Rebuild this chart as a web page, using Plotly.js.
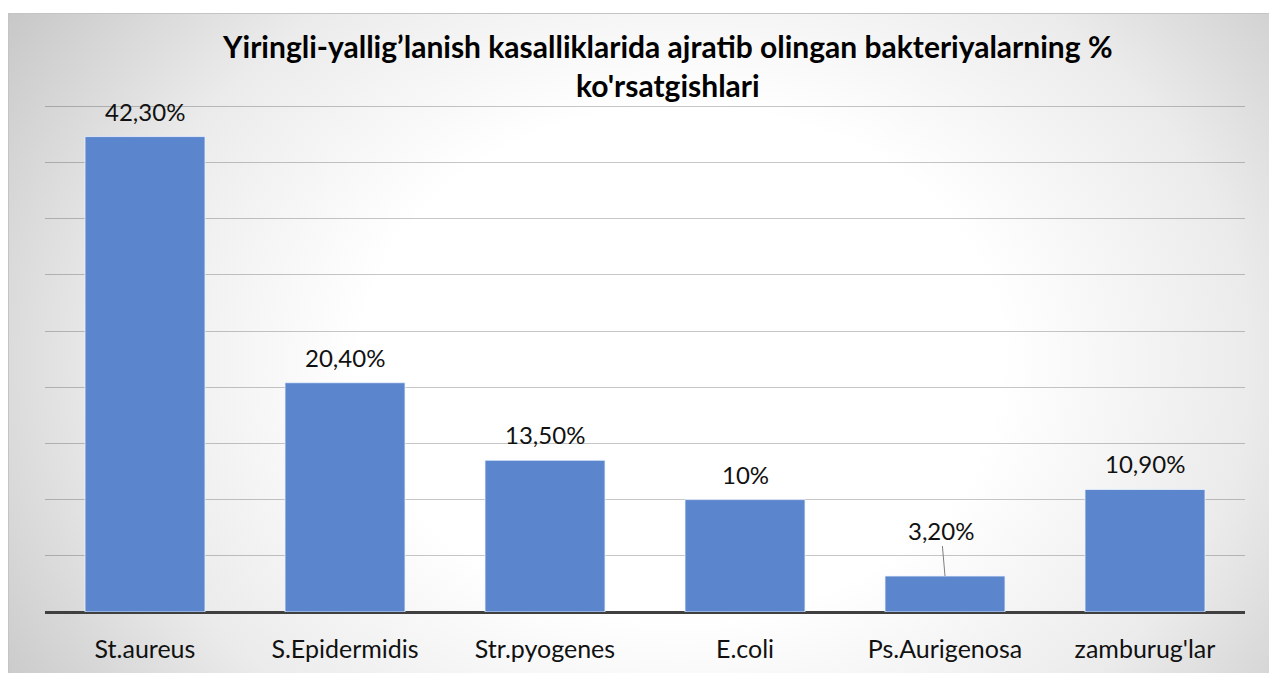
<!DOCTYPE html>
<html>
<head>
<meta charset="utf-8">
<script src="https://cdn.plot.ly/plotly-3.0.1.min.js"></script>
<style>
  html, body { margin: 0; padding: 0; background: #ffffff; }
  #wrap { position: relative; width: 1269px; height: 673px; overflow: hidden; }
  #bg {
    position: absolute; left: 8px; top: 13px; width: 1270px; height: 670px;
    border: 1px solid #c4c4c4;
    background: radial-gradient(ellipse 66% 100% at 53% 52%, #ffffff 0%, #ffffff 38%, #ebebeb 68%, #c2c2c2 100%);
  }
  #chart { position: absolute; left: 0; top: 0; width: 1269px; height: 673px; }
</style>
</head>
<body>
<div id="wrap">
  <div id="bg"></div>
  <div id="chart"></div>
</div>
<script>
const categories = ["St.aureus", "S.Epidermidis", "Str.pyogenes", "E.coli", "Ps.Aurigenosa", "zamburug'lar"];
const values = [42.3, 20.4, 13.5, 10, 3.2, 10.9];
const labels = ["42,30%", "20,40%", "13,50%", "10%", "3,20%", "10,90%"];
const titleText = "Yiringli-yallig’lanish kasalliklarida ajratib olingan bakteriyalarning %<br>ko'rsatgishlari";
const gridVals = [5, 10, 15, 20, 25, 30, 35, 40, 45];

const FONT = "Lato, 'Open Sans', sans-serif";

const trace = {
  type: "bar",
  x: categories,
  y: values,
  marker: { color: "#5b85cc", line: { color: "rgba(235,242,255,0.8)", width: 1 } },
  hoverinfo: "none"
};

const annotations = categories.map((c, i) => {
  if (values[i] < 5) {
    return {
      x: c, y: values[i], xref: "x", yref: "y",
      text: labels[i], showarrow: true, arrowhead: 0, arrowwidth: 1,
      arrowcolor: "#7f7f7f", ax: -4, ay: -46,
      font: { family: FONT, size: 24, color: "#111" }
    };
  }
  return {
    x: c, y: values[i], xref: "x", yref: "y",
    text: labels[i], showarrow: false, yanchor: "bottom", yshift: 9,
    font: { family: FONT, size: 24, color: "#111" }
  };
});

const layout = {
  width: 1269, height: 673,
  paper_bgcolor: "rgba(0,0,0,0)",
  plot_bgcolor: "rgba(0,0,0,0)",
  margin: { l: 45, r: 24, t: 95, b: 61, pad: 0 },
  showlegend: false,
  bargap: 0.4,
  title: {
    text: titleText,
    x: 0.519, xanchor: "center", xref: "paper",
    y: 0.914, yanchor: "top", yref: "container",
    font: { family: FONT, size: 30, color: "#000", weight: "bold" }
  },
  xaxis: {
    type: "category",
    showgrid: false, showline: false, zeroline: false,
    ticks: "", ticklabelstandoff: 20,
    tickfont: { family: FONT, size: 25, color: "#111" }
  },
  yaxis: {
    range: [0, 46],
    tickvals: gridVals,
    showticklabels: false,
    showgrid: true, gridcolor: "rgba(0,0,0,0.22)", gridwidth: 1,
    zeroline: true, zerolinecolor: "#404040", zerolinewidth: 3,
    showline: false, ticks: ""
  },
  annotations: annotations
};

Plotly.newPlot("chart", [trace], layout, { displayModeBar: false, staticPlot: true });
</script>
</body>
</html>
